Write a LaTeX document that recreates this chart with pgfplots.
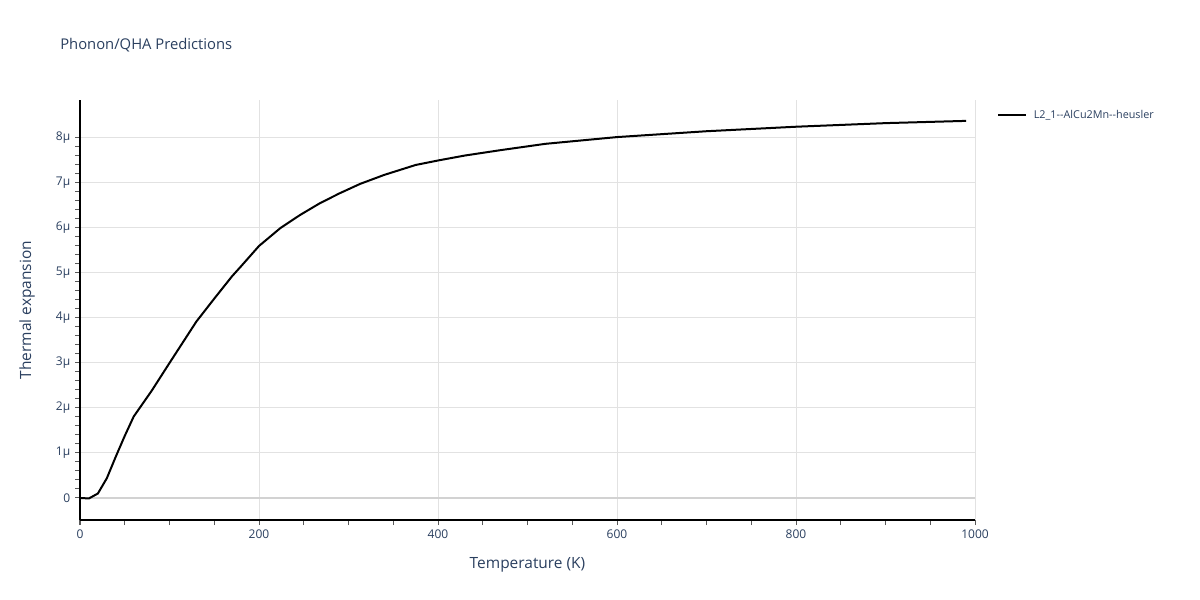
\documentclass[border=0pt]{standalone}
\usepackage{fontspec}
\setmainfont{Open Sans}
\usepackage{pgfplots}
\usepackage{pgfplotstable}
\pgfplotsset{compat=1.18}
\definecolor{txt}{HTML}{2A3F5F}
\definecolor{gridc}{HTML}{E2E2E2}
\definecolor{zeroc}{HTML}{D2D2D2}
\pgfplotstableread{
T alpha
0 0
10 -0.01
20 0.10
30 0.44
40 0.92
50 1.38
60 1.81
80 2.38
100 3.00
130 3.92
150 4.43
170 4.93
180 5.15
200 5.60
224 6.00
246 6.29
268 6.55
290 6.77
313 6.98
340 7.18
375 7.40
400 7.50
430 7.61
470 7.73
520 7.87
600 8.02
700 8.15
800 8.25
900 8.33
990 8.38
}\datatable
\begin{document}
\begin{tikzpicture}
\path[use as bounding box] (0pt,0pt) rectangle (900pt,450pt);
\node[anchor=west, text=txt, font=\fontsize{11.1}{13}\selectfont, inner sep=0pt] at (45pt,416.25pt) {Phonon/QHA Predictions};
\begin{axis}[
  at={(60pt,60pt)}, anchor=south west,
  scale only axis, width=671.25pt, height=315pt,
  xmin=0, xmax=1000, ymin=-0.489, ymax=8.844,
  axis lines*=left,
  axis line style={black, line width=0.75pt, -},
  tick align=outside, tick pos=left,
  xtick={0,200,400,600,800,1000},
  xticklabels={0,200,400,600,800,1000},
  minor x tick num=3,
  ytick={0,1,2,3,4,5,6,7,8},
  yticklabels={0,1µ,2µ,3µ,4µ,5µ,6µ,7µ,8µ},
  minor y tick num=4,
  grid=major,
  grid style={gridc, line width=0.75pt},
  major tick length=3.75pt, minor tick length=3.75pt,
  every tick/.style={color=black!65, line width=0.75pt},
  tick label style={text=txt, font=\fontsize{9}{11}\selectfont},
  xlabel={Temperature (K)}, ylabel={Thermal expansion},
  label style={text=txt, font=\fontsize{11.6}{13}\selectfont},
  xlabel style={at={(axis description cs:0.5,-0.107)}, anchor=center},
  ylabel style={at={(axis description cs:-0.0592,0.5)}, anchor=center},
  extra y ticks={0}, extra y tick labels={},
  extra y tick style={grid=major, grid style={zeroc, line width=1.5pt}, major tick length=0pt},
  legend style={at={(axis description cs:1.0245,0.964)}, anchor=west, draw=none, fill=none,
    inner sep=0pt, column sep=3pt, font=\fontsize{8.1}{10}\selectfont, text=txt},
  legend cell align=left,
  legend image code/.code={\draw[#1] (0pt,0pt) -- (21pt,0pt);},
]
\addplot[black, line width=1.5pt, line join=round] table[x=T, y=alpha] {\datatable};
\addlegendentry{L2\_1-{}-AlCu2Mn-{}-heusler}
\end{axis}
\end{tikzpicture}
\end{document}
